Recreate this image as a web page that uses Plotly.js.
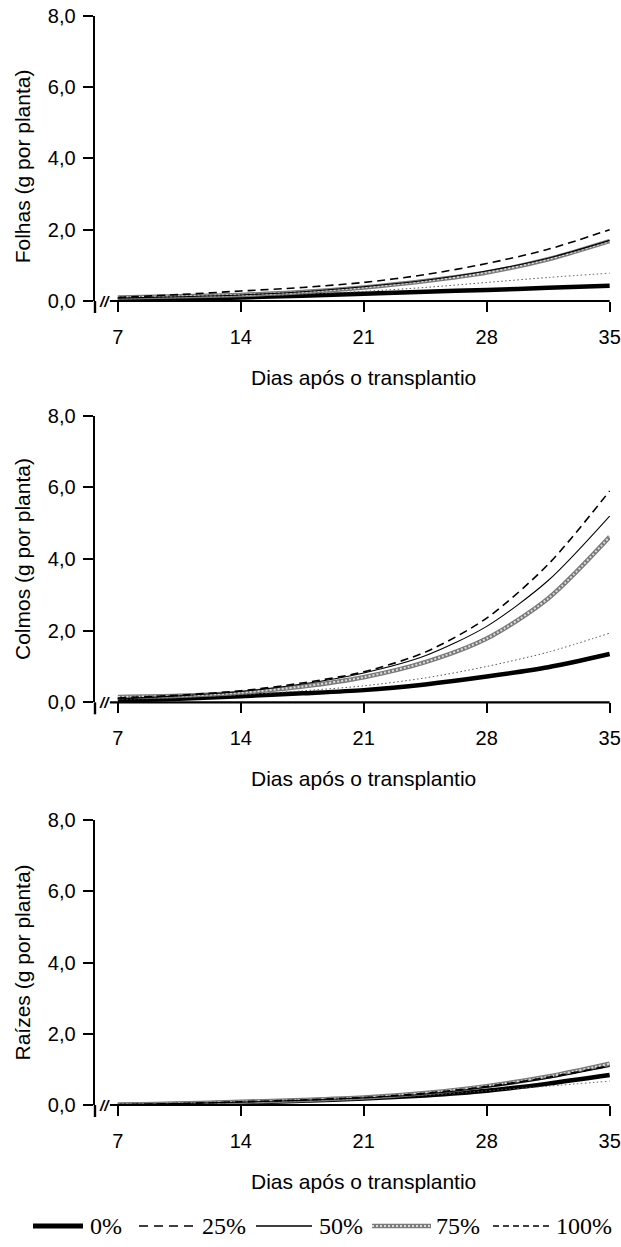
<!DOCTYPE html>
<html>
<head>
<meta charset="utf-8">
<script src="https://cdn.plot.ly/plotly-3.0.1.min.js"></script>
<style>
  html, body { margin: 0; padding: 0; background: #fff; }
  #chart { width: 621px; height: 1247px; }
</style>
</head>
<body>
<div id="chart"></div>
<script>
// ---- data ----
const days = [7, 10.5, 14, 17.5, 21, 24.5, 28, 31.5, 35];
const xTicks = [7, 14, 21, 28, 35];
const seriesNames = ['0%', '25%', '50%', '75%', '100%'];
const panelTitles = ['Folhas (g por planta)', 'Colmos (g por planta)', 'Raízes (g por planta)'];
const xTitle = 'Dias após o transplantio';

// Folhas
const folhas0   = [0.03, 0.06, 0.10, 0.15, 0.20, 0.26, 0.31, 0.37, 0.43];
const folhas25  = [0.10, 0.18, 0.28, 0.38, 0.52, 0.74, 1.05, 1.45, 2.00];
const folhas50  = [0.08, 0.12, 0.17, 0.26, 0.40, 0.58, 0.84, 1.20, 1.70];
const folhas75  = [0.10, 0.13, 0.17, 0.25, 0.38, 0.56, 0.80, 1.17, 1.68];
const folhas100 = [0.05, 0.09, 0.13, 0.19, 0.27, 0.38, 0.52, 0.66, 0.78];

// Colmos
const colmos0   = [0.05, 0.10, 0.17, 0.25, 0.34, 0.50, 0.72, 0.98, 1.35];
const colmos25  = [0.12, 0.20, 0.32, 0.54, 0.85, 1.40, 2.35, 3.85, 5.90];
const colmos50  = [0.10, 0.18, 0.30, 0.51, 0.82, 1.30, 2.12, 3.40, 5.20];
const colmos75  = [0.15, 0.18, 0.27, 0.44, 0.70, 1.12, 1.78, 2.90, 4.62];
const colmos100 = [0.08, 0.13, 0.21, 0.32, 0.46, 0.68, 1.00, 1.40, 1.93];

// Raízes
const raizes0   = [0.00, 0.03, 0.07, 0.12, 0.18, 0.27, 0.40, 0.60, 0.84];
const raizes25  = [0.01, 0.04, 0.09, 0.14, 0.21, 0.33, 0.52, 0.78, 1.10];
const raizes50  = [0.01, 0.04, 0.08, 0.13, 0.20, 0.31, 0.50, 0.75, 1.08];
const raizes75  = [0.01, 0.04, 0.09, 0.14, 0.21, 0.34, 0.53, 0.80, 1.16];
const raizes100 = [0.00, 0.03, 0.07, 0.12, 0.18, 0.27, 0.40, 0.53, 0.67];

const panels = [
  [folhas0, folhas25, folhas50, folhas75, folhas100],
  [colmos0, colmos25, colmos50, colmos75, colmos100],
  [raizes0, raizes25, raizes50, raizes75, raizes100]
];

// ---- styles ----
const lineStyles = [
  {color: '#000000', width: 4.5, dash: 'solid'},
  {color: '#000000', width: 1.6, dash: '8px,5px'},
  {color: '#000000', width: 1.1, dash: 'solid'},
  {color: '#7a7a7a', width: 4.5, dash: 'solid'},
  {color: '#555555', width: 1, dash: '1.5px,2.5px'}
];
// inner texture of the 75% line
const texture75 = {color: '#dcdcdc', width: 2, dash: '2px,2px'};
// draw order so the thin lines stay visible on the thick ones
const drawOrder = [0, 4, 3, 2, 1];

// legend geometry (pixels)
const legendY = 1226;
const legendSym = [[33, 83], [139, 195], [256, 312], [372, 431], [493, 551]];
const legendTextX = [88, 200, 317, 434, 554];
const legendDash = ['solid', '9px,6px', 'solid', 'solid', '6px,4px'];
const legendWidth = [5, 1.6, 1.3, 4.5, 1.5];
const serifFont = 'Liberation Serif';

const W = 621, H = 1247;
const ML = 95, MR = 11;
const PW = W - ML - MR;
const plotTops = [15.7, 415.7, 820];
const plotBottoms = [301, 702.3, 1105];
const yTitleShift = [-8, 0, 0];

const traces = [];
const layout = {
  width: W, height: H,
  margin: {l: ML, r: MR, t: 0, b: 0},
  paper_bgcolor: '#ffffff', plot_bgcolor: '#ffffff',
  separators: ', ',
  font: {family: 'Liberation Sans', size: 20, color: '#000'},
  showlegend: false,
  shapes: [], annotations: []
};

panels.forEach((vals, p) => {
  const suf = p === 0 ? '' : String(p + 1);
  const xa = 'x' + suf, ya = 'y' + suf;
  drawOrder.forEach(i => {
    traces.push({
      type: 'scatter', mode: 'lines', x: days, y: vals[i],
      xaxis: xa, yaxis: ya, name: seriesNames[i],
      line: {color: lineStyles[i].color, width: lineStyles[i].width, dash: lineStyles[i].dash,
             shape: 'spline', smoothing: 0.8},
      hoverinfo: 'skip'
    });
    if (i === 3) {
      traces.push({
        type: 'scatter', mode: 'lines', x: days, y: vals[i],
        xaxis: xa, yaxis: ya, name: seriesNames[i],
        line: {color: texture75.color, width: texture75.width, dash: texture75.dash,
               shape: 'spline', smoothing: 0.8},
        hoverinfo: 'skip'
      });
    }
  });
  layout['xaxis' + suf] = {
    anchor: ya, domain: [0, 1], range: [5.7, 35.02],
    tickvals: xTicks, ticks: 'outside', ticklen: 10, tickwidth: 2, tickcolor: '#000',
    ticklabelstandoff: 8, ticklabeloverflow: 'allow',
    showline: false, showgrid: false, zeroline: false,
    tickfont: {size: 20}
  };
  layout['yaxis' + suf] = {
    anchor: xa,
    domain: [1 - plotBottoms[p] / H, 1 - plotTops[p] / H],
    range: [0, 8], tickvals: [0, 2, 4, 6, 8], tickformat: '.1f',
    ticks: 'outside', ticklen: 10, tickwidth: 2, tickcolor: '#000',
    ticklabelstandoff: 3,
    showline: true, linewidth: 2.4, linecolor: '#000',
    showgrid: false, zeroline: false,
    tickfont: {size: 20}
  };
  const ph = plotBottoms[p] - plotTops[p];
  // x axis line (starts after the break)
  layout.shapes.push({type: 'line', xref: xa, yref: ya + ' domain', x0: 6.55, x1: 35, y0: 0, y1: 0,
    line: {color: '#000', width: 2.2}});
  // y axis continues a little below the x axis
  layout.shapes.push({type: 'line', xref: xa + ' domain', yref: ya + ' domain', x0: 0, x1: 0,
    y0: 0, y1: -12 / ph, line: {color: '#000', width: 2.4}});
  // axis break marks
  layout.annotations.push({xref: xa + ' domain', yref: ya + ' domain', x: 9 / PW, y: 0,
    text: '<i><b>//</b></i>', showarrow: false, xanchor: 'center', yanchor: 'middle',
    font: {size: 15, color: '#000'}});
  // y title
  layout.annotations.push({xref: xa + ' domain', yref: ya + ' domain', x: (22 - ML) / PW,
    y: 0.5 + yTitleShift[p] / ph,
    text: panelTitles[p], textangle: -90, showarrow: false, xanchor: 'center', yanchor: 'middle',
    font: {size: 21, color: '#000'}});
  // x title
  layout.annotations.push({xref: xa, yref: ya + ' domain', x: 21, y: -76 / ph,
    text: xTitle, showarrow: false, xanchor: 'center', yanchor: 'middle',
    font: {size: 21, color: '#000'}});
});

// ---- manual legend ----
const ly = 1 - legendY / H;
const px = v => (v - ML) / PW;
seriesNames.forEach((name, i) => {
  layout.shapes.push({type: 'line', xref: 'paper', yref: 'paper',
    x0: px(legendSym[i][0]), x1: px(legendSym[i][1]), y0: ly, y1: ly,
    line: {color: i === 3 ? lineStyles[3].color : '#000', width: legendWidth[i], dash: legendDash[i]}});
  if (i === 3) {
    layout.shapes.push({type: 'line', xref: 'paper', yref: 'paper',
      x0: px(legendSym[i][0]), x1: px(legendSym[i][1]), y0: ly, y1: ly,
      line: {color: texture75.color, width: 2, dash: texture75.dash}});
  }
  layout.annotations.push({xref: 'paper', yref: 'paper', x: px(legendTextX[i]), y: ly,
    text: name, showarrow: false, xanchor: 'left', yanchor: 'middle',
    font: {family: serifFont, size: 24, color: '#000'}});
});

Plotly.newPlot('chart', traces, layout, {displayModeBar: false, staticPlot: true});
</script>
</body>
</html>
